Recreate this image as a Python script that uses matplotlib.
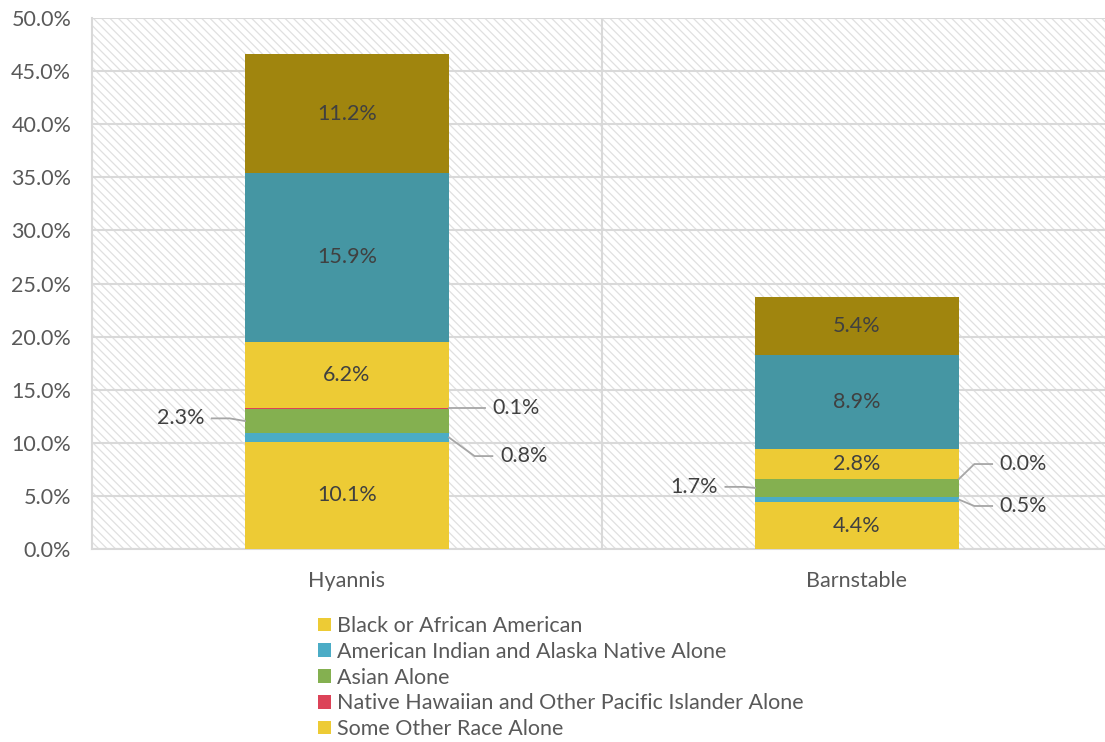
import matplotlib
matplotlib.use("Agg")
import matplotlib.pyplot as plt
from matplotlib.patches import Rectangle, Patch
import numpy as np

places = ["Hyannis", "Barnstable"]
series = [
    "Black or African American",
    "American Indian and Alaska Native Alone",
    "Asian Alone",
    "Native Hawaiian and Other Pacific Islander Alone",
    "Some Other Race Alone",
    "Two or More Races",
    "Hispanic or Latino",
]
black = [10.1, 4.4]
am_indian = [0.8, 0.5]
asian = [2.3, 1.7]
hawaiian = [0.1, 0.0]
other = [6.2, 2.8]
two_more = [15.9, 8.9]
hispanic = [11.2, 5.4]
values = [black, am_indian, asian, hawaiian, other, two_more, hispanic]
colors = ["#EDCB35", "#4BACC6", "#84B050", "#DC4358", "#EDCB35", "#4596A3", "#A0850E"]
legend_count = 5

plt.rcParams["font.family"] = ["Lato", "DejaVu Sans"]
plt.rcParams["hatch.linewidth"] = 0.9

fig = plt.figure(figsize=(11.05, 7.42), dpi=100)
ax = fig.add_axes([92 / 1105, 1 - 549 / 742, 1020 / 1105, 531 / 742])

grid_c = "#D9D9D9"
ax.add_patch(Rectangle((0, 0), 1, 1, transform=ax.transAxes, facecolor="white",
                       edgecolor="#E0E0E0", hatch="\\\\\\\\", linewidth=0, zorder=0))

x = np.arange(len(places))
bottom = np.zeros(len(places))
for name, vals, c in zip(series, values, colors):
    ax.bar(x, vals, 0.4, bottom=bottom, color=c, label=name, zorder=3)
    bottom += np.array(vals)

ax.set_xlim(-0.5, 1.5)
ax.set_ylim(0, 50)
ax.set_yticks(np.arange(0, 51, 5))
ax.set_yticklabels([f"{v:.1f}%" for v in np.arange(0, 51, 5)])
ax.set_xticks(x)
ax.set_xticklabels(places)
fs = 15.5
ax.tick_params(axis="both", length=0, labelsize=fs, labelcolor="#595959")
ax.tick_params(axis="y", pad=15)
ax.tick_params(axis="x", pad=16)
ax.set_xticks([0.5], minor=True)
ax.tick_params(axis="x", which="minor", length=0)
ax.grid(axis="y", color=grid_c, linewidth=1.5, zorder=1)
ax.grid(axis="x", which="minor", color=grid_c, linewidth=1.5, zorder=1)
ax.grid(axis="x", which="major", visible=False)
for s in ["top", "right"]:
    ax.spines[s].set_visible(False)
ax.spines["left"].set_color(grid_c)
ax.spines["bottom"].set_color(grid_c)
ax.spines["left"].set_linewidth(1.5)
ax.spines["bottom"].set_linewidth(1.5)
ax.set_axisbelow(True)

txt = "#404040"
cum = np.cumsum(np.array(values), axis=0)
# labels inside the large segments
for si in [0, 4, 5, 6]:
    for i in range(len(places)):
        mid = cum[si][i] - values[si][i] / 2
        ax.text(x[i], mid, f"{values[si][i]:.1f}%", ha="center", va="center",
                fontsize=fs, color=txt, zorder=5)

# callouts for the thin segments: (series index, side, text x offset, text y offset)
callouts = [
    [(2, -1, -0.28, 0.25), (3, 1, 0.285, 0.0), (1, 1, 0.30, -1.75)],
    [(2, -1, -0.273, 0.1), (3, 1, 0.28, 1.4), (1, 1, 0.28, -0.6)],
]
for i, cl in enumerate(callouts):
    for si, side, dx, dy in cl:
        mid = cum[si][i] - values[si][i] / 2
        edge = x[i] + side * 0.2
        tx = x[i] + dx
        ty = mid + dy
        line_end = tx - side * 0.015
        elbow = edge + side * min(0.05, abs(dx) - 0.25)
        ax.plot([edge, elbow, line_end], [mid, ty, ty], color="#A6A6A6",
                linewidth=1.3, zorder=4, clip_on=False)
        ax.text(tx, ty, f"{values[si][i]:.1f}%", ha="left" if side > 0 else "right",
                va="center", fontsize=fs, color=txt, zorder=5)

handles = [Patch(facecolor=c, edgecolor="none") for c in colors[:legend_count]]
fig.legend(handles, series[:legend_count], loc="upper left",
           bbox_to_anchor=(318 / 1105, 1 - 616 / 742), frameon=False,
           fontsize=fs, labelcolor="#595959", handlelength=0.6, handleheight=0.6,
           handletextpad=0.3, labelspacing=0.27, borderaxespad=0, borderpad=0)

fig.savefig("out.png", dpi=100)
